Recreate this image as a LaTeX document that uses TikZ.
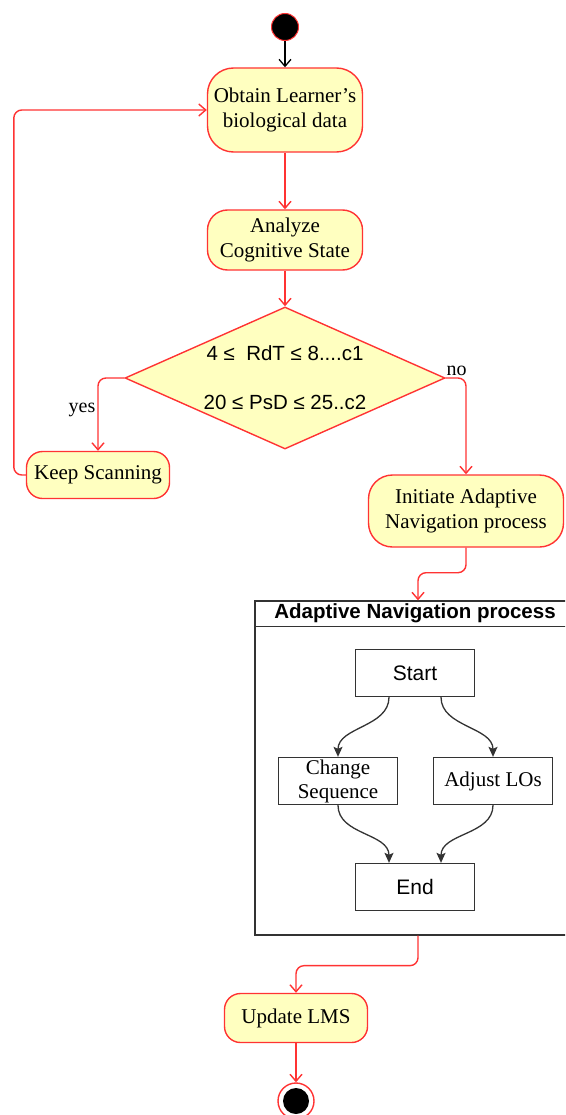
\documentclass[tikz,border=0pt]{standalone}
\usepackage{fontspec}
\setmainfont{Liberation Serif}
\setsansfont{Liberation Sans}
\usetikzlibrary{shapes.geometric,arrows.meta}

\definecolor{actFill}{HTML}{FFFFC0}
\definecolor{actLine}{HTML}{FF3333}
\definecolor{boxLine}{HTML}{333333}

\begin{document}
\begin{tikzpicture}
[x=1pt,y=-1pt,
 actDecorate/.style={shape=rectangle,draw=actLine,fill=actFill,line width=1.4pt,
   align=center,inner sep=2pt,font=\fontsize{21}{25}\selectfont},
 boxDecorate/.style={shape=rectangle,draw=boxLine,line width=1.3pt,
   minimum width=119pt,minimum height=47pt,inner sep=2pt,align=center,
   font=\fontsize{21}{24}\selectfont}]
%% canvas
\useasboundingbox (0,0) rectangle (565,1115);
\clip (0,0) rectangle (565,1115);
%% initial and final states
\node (startstate) at (285,27) [circle,fill=black,draw=actLine,line width=1pt,
  minimum size=27pt,inner sep=0pt] {};
\node (endstate) at (296,1101) [circle,draw=actLine,fill=white,line width=1.4pt,
  minimum size=36pt,inner sep=0pt,
  path picture={\fill[black] (path picture bounding box.center) circle (13pt);}] {};
%% activities
\foreach \nodename/\x/\y/\w/\h/\r/\txt in {
  obtain/285/110/155/84/26/{Obtain Learner's\\biological data},
  analyze/285/240/155/60/20/{Analyze\\Cognitive State},
  keep/98/475/143/47/16/{Keep Scanning},
  initiate/466/511/195/72/24/{Initiate Adaptive\\Navigation process},
  update/296/1018/143/49/16/{Update LMS}}
{
  \node (\nodename) at (\x,\y) [actDecorate,minimum width=\w pt,
    minimum height=\h pt,rounded corners=\r pt] {\txt};
}
%% decision
\node (dec) at (285,378) [shape=diamond,draw=actLine,fill=actFill,line width=1.4pt,
  aspect=2.25,minimum width=320pt,minimum height=142pt,inner sep=0pt,align=center,
  font=\sffamily\fontsize{20.5}{49}\selectfont] {4 ≤~ RdT ≤ 8....c1\\20 ≤ PsD ≤ 25..c2};
%% sub process
\node (anp) at (418,768) [shape=rectangle,draw=boxLine,line width=1.3pt,
  minimum width=326pt,minimum height=334pt] {};
\draw[boxLine,line width=1.3pt] ([yshift=-26pt]anp.north west) -- ([yshift=-26pt]anp.north east);
\node (anptitle) at ([xshift=-3pt,yshift=-13pt]anp.north)
  [font=\sffamily\bfseries\fontsize{20.5}{22}\selectfont] {Adaptive Navigation process};
\node (st) at (415,673) [boxDecorate,font=\sffamily\fontsize{21}{24}\selectfont] {Start};
\node (chg) at (338,781) [boxDecorate] {Change\\Sequence};
\node (adj) at (493,781) [boxDecorate] {Adjust LOs};
\node (en) at (415,887) [boxDecorate,font=\sffamily\fontsize{21}{24}\selectfont] {End};
%% edges
\tikzstyle{RedEdge}=[draw=actLine,line width=1.4pt,
  -{Straight Barb[length=7pt,width=12pt]},rounded corners=8pt]
\tikzstyle{BlackEdge}=[draw=boxLine,line width=1.3pt,
  -{Stealth[length=10pt,width=9pt,inset=2pt]}]
\tikzstyle{LabelStyle}=[font=\fontsize{20}{24}\selectfont,inner sep=2pt]
\draw[black,line width=1.3pt,-{Straight Barb[length=7pt,width=12pt]}] (startstate) -- (obtain);
\foreach \startnode/\endnode in {obtain/analyze, analyze/dec, update/endstate}
{
  \draw[RedEdge] (\startnode) -- (\endnode);
}
\draw[RedEdge] (dec.west) -| node[LabelStyle,left,pos=0.72] {yes} (keep.north);
\draw[RedEdge] (dec.east) -| node[LabelStyle,above,pos=0.27] {no} (initiate.north);
\draw[RedEdge] (keep.west) -- ++(-12,0) |- (obtain.west);
\draw[RedEdge] (initiate.south) -- ++(0,25) -| (anp.north);
\draw[RedEdge] (anp.south) -- ++(0,30) -| (update.north);
%% sub process edges
\draw[BlackEdge] ([xshift=-26pt]st.south) .. controls +(0,30) and +(0,-30) .. (chg.north);
\draw[BlackEdge] ([xshift=26pt]st.south) .. controls +(0,30) and +(0,-30) .. (adj.north);
\draw[BlackEdge] (chg.south) .. controls +(0,30) and +(0,-30) .. ([xshift=-26pt]en.north);
\draw[BlackEdge] (adj.south) .. controls +(0,30) and +(0,-30) .. ([xshift=26pt]en.north);
\end{tikzpicture}
\end{document}
